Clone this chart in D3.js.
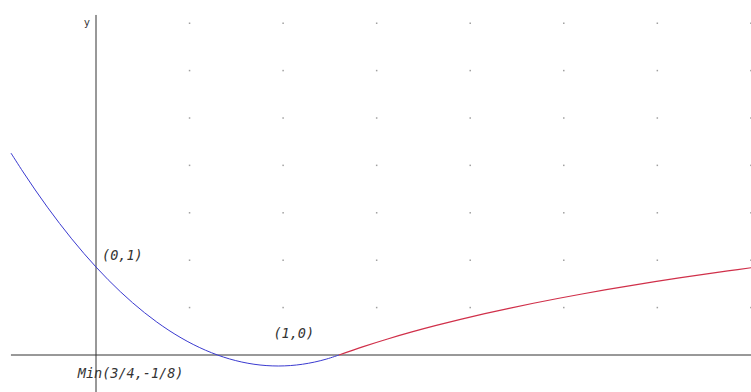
<!DOCTYPE html>
<html>
<head>
<meta charset="utf-8">
<script src="https://cdn.jsdelivr.net/npm/d3@7"></script>
<style>
html,body{margin:0;padding:0;background:#fff;}
svg{display:block;}
</style>
</head>
<body>
<svg id="chart" width="751" height="392"></svg>
<script>
// ---- data ----
const blueX = [-0.35,-0.3,-0.25,-0.2,-0.15,-0.1,-0.05,0,0.05,0.1,0.15,0.2,0.25,0.3,0.35,0.4,0.45,0.5,0.55,0.6,0.65,0.7,0.75,0.8,0.85,0.9,0.95,1.0];
const blueY = [2.295,2.08,1.875,1.68,1.495,1.32,1.155,1,0.855,0.72,0.595,0.48,0.375,0.28,0.195,0.12,0.055,0,-0.045,-0.08,-0.105,-0.12,-0.125,-0.12,-0.105,-0.08,-0.045,0];
const redX = [1.0,1.1,1.2,1.3,1.4,1.5,1.6,1.7,1.8,1.9,2.0,2.1,2.2,2.3,2.4,2.5,2.6,2.7];
const redY = [0,0.0953,0.1823,0.2624,0.3365,0.4055,0.47,0.5306,0.5878,0.6419,0.6931,0.7419,0.7885,0.8329,0.8755,0.9163,0.9555,0.9933];
const gridX = [0.385,0.77,1.155,1.54,1.925,2.31,2.695];
const gridY = [0.539,1.077,1.616,2.155,2.693,3.232,3.77];
const labels = ["(0,1)","(1,0)","Min(3/4,-1/8)"];
const labelX = [0.025,0.73,-0.075];
const labelY = [1.08,0.19,-0.26];
const axisLabel = "y";

// ---- scales ----
const W = 751, H = 392;
const x = d3.scaleLinear().domain([-96/243, (W-96)/243]).range([0, W]);
const y = d3.scaleLinear().domain([355/88, -37/88]).range([0, H]);

const svg = d3.select("#chart");

// grid dots
const dots = [];
gridX.forEach(gx => gridY.forEach(gy => dots.push([gx, gy])));
svg.append("g").selectAll("rect").data(dots).enter().append("rect")
  .attr("x", d => x(d[0]) - 0.75).attr("y", d => y(d[1]) - 0.75)
  .attr("width", 1.5).attr("height", 1.5).attr("fill", "#a0a0a0");

// axes
svg.append("line").attr("x1", x(-0.35)).attr("x2", W).attr("y1", y(0)).attr("y2", y(0))
  .attr("stroke", "#333").attr("stroke-width", 1);
svg.append("line").attr("x1", x(0)).attr("x2", x(0)).attr("y1", y(3.864)).attr("y2", H)
  .attr("stroke", "#333").attr("stroke-width", 1);
svg.append("text").attr("x", x(0) - 6).attr("y", y(3.864) + 11).attr("text-anchor", "end")
  .attr("font-family", "DejaVu Sans, sans-serif").attr("font-size", 10).attr("fill", "#333").text(axisLabel);

const line = d3.line().x(d => x(d[0])).y(d => y(d[1])).curve(d3.curveCatmullRom);

svg.append("path").datum(blueX.map((v, i) => [v, blueY[i]]))
  .attr("d", line).attr("fill", "none").attr("stroke", "#3a3ad0").attr("stroke-width", 1);
svg.append("path").datum(redX.map((v, i) => [v, redY[i]]))
  .attr("d", line).attr("fill", "none").attr("stroke", "#d0304a").attr("stroke-width", 1.2);

// labels
svg.append("g").selectAll("text").data(labels).enter().append("text")
  .attr("x", (d, i) => x(labelX[i])).attr("y", (d, i) => y(labelY[i]))
  .attr("font-family", "DejaVu Sans Mono, monospace")
  .attr("font-style", "italic")
  .attr("font-size", 13.5).attr("fill", "#333").text(d => d);
</script>
</body>
</html>
